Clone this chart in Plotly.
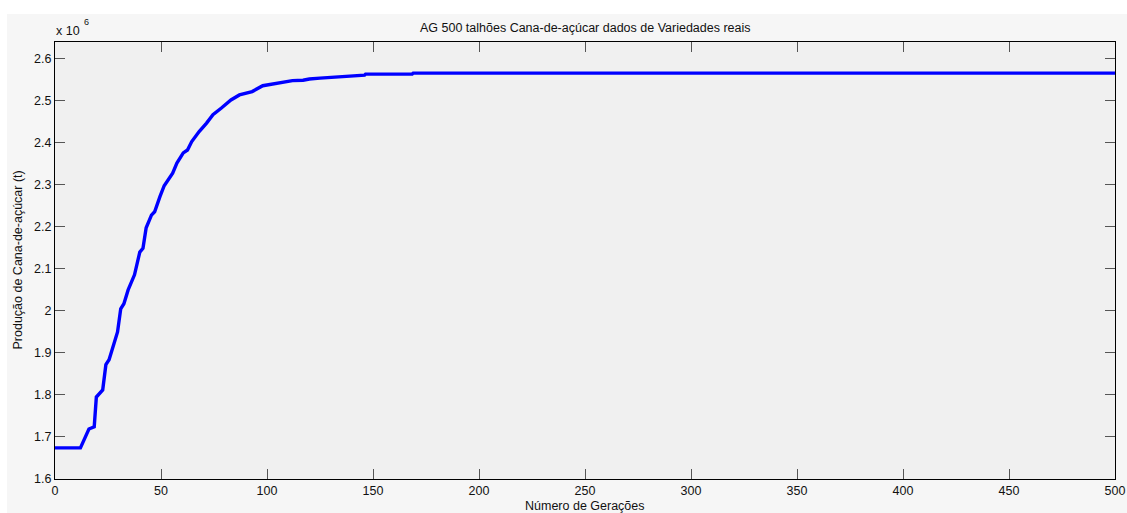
import plotly.graph_objects as go

# Data (production in units of 10^6 t)
generations = [0, 12, 16, 17.5, 18.5, 19.5, 21.5, 22.5, 24, 25.5, 29.5, 31, 32.5, 34.5,
               37.5, 40, 41.5, 43, 45.5, 47, 49.5, 51.5, 55.5, 57.5, 60.5, 62.5, 64.5,
               68, 71.5, 74.5, 78.5, 83, 87, 93, 98, 104, 112, 117, 120, 125, 130, 137,
               146, 146.5, 168.5, 169, 500]
production = [1.674, 1.674, 1.719, 1.723, 1.724, 1.795, 1.806, 1.812, 1.872, 1.884, 1.950,
              2.005, 2.017, 2.050, 2.086, 2.140, 2.149, 2.198, 2.228, 2.236, 2.272, 2.298,
              2.328, 2.352, 2.376, 2.383, 2.403, 2.427, 2.447, 2.467, 2.483, 2.502, 2.514,
              2.522, 2.536, 2.542, 2.548, 2.549, 2.552, 2.554, 2.556, 2.559, 2.561, 2.5636,
              2.5636, 2.566, 2.566]

x_ticks = [0, 50, 100, 150, 200, 250, 300, 350, 400, 450, 500]
y_ticks = [1.6, 1.7, 1.8, 1.9, 2.0, 2.1, 2.2, 2.3, 2.4, 2.5, 2.6]
y_tick_labels = ["1.6", "1.7", "1.8", "1.9", "2", "2.1", "2.2", "2.3", "2.4", "2.5", "2.6"]

title_text = "AG 500 talhões Cana-de-açúcar dados de Variedades reais"
x_label = "Número de Gerações"
y_label = "Produção de Cana-de-açúcar (t)"

W, H = 1127, 513
L, R, T, B = 55, 12, 42, 34
PW, PH = W - L - R, H - T - B

def px(xp):
    return (xp - L) / PW

def py(yp):
    return (H - B - yp) / PH

FONT = "Liberation Sans, Arial, sans-serif"

fig = go.Figure()
fig.add_trace(go.Scatter(x=generations, y=production, mode="lines",
                         line=dict(color="#0000ff", width=3.4), hoverinfo="skip"))

axis_common = dict(showgrid=False, zeroline=False, showline=True, linecolor="#000000",
                   linewidth=1, mirror="ticks", ticks="inside", ticklen=10, tickwidth=1,
                   tickcolor="#555555", automargin=False, ticklabeloverflow="allow",
                   tickfont=dict(family=FONT, size=12.5, color="#111111"))

fig.update_xaxes(range=[0, 500], tickvals=x_ticks, ticktext=[str(v) for v in x_ticks],
                 **axis_common)
fig.update_yaxes(range=[1.6, 2.64], tickvals=y_ticks, ticktext=y_tick_labels,
                 **axis_common)

shapes = [
    dict(type="rect", xref="paper", yref="paper", x0=-1, x1=2, y0=py(14), y1=py(-50),
         fillcolor="#ffffff", line=dict(width=0), layer="above"),
    dict(type="rect", xref="paper", yref="paper", x0=px(-50), x1=px(7), y0=-1, y1=2,
         fillcolor="#ffffff", line=dict(width=0), layer="above"),
]

annotations = [
    dict(text=title_text, x=0.5, y=py(28), xref="paper", yref="paper", showarrow=False,
         xanchor="center", yanchor="middle", font=dict(family=FONT, size=12.5, color="#111111")),
    dict(text=x_label, x=0.5, y=py(506), xref="paper", yref="paper", showarrow=False,
         xanchor="center", yanchor="middle", font=dict(family=FONT, size=12.5, color="#111111")),
    dict(text=y_label, x=px(17), y=0.5, xref="paper", yref="paper", showarrow=False,
         xanchor="center", yanchor="middle", textangle=-90,
         font=dict(family=FONT, size=12.5, color="#111111")),
    dict(text="x 10", x=px(54), y=py(31), xref="paper", yref="paper", showarrow=False,
         xanchor="left", yanchor="middle", font=dict(family=FONT, size=12.5, color="#111111")),
    dict(text="6", x=px(81.5), y=py(22.5), xref="paper", yref="paper", showarrow=False,
         xanchor="left", yanchor="middle", font=dict(family=FONT, size=9, color="#111111")),
]

fig.update_layout(width=W, height=H, margin=dict(l=L, r=R, t=T, b=B, pad=0, autoexpand=False),
                  paper_bgcolor="#f6f6f6", plot_bgcolor="#f0f0f0", showlegend=False,
                  shapes=shapes, annotations=annotations)

fig.write_html("out.html", config={"displayModeBar": False},
               post_script="document.body.style.margin='0px';document.body.style.overflow='hidden';")
